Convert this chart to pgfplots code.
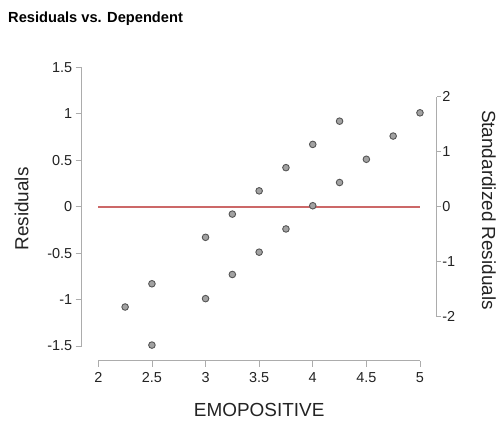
\documentclass[border=0pt]{standalone}
\usepackage{pgfplots}
\pgfplotsset{compat=1.18}
\usepackage{fontspec}
\setmainfont{Liberation Sans}
\definecolor{axisgray}{RGB}{172,172,172}
\definecolor{ptfill}{RGB}{162,162,162}
\definecolor{ptdraw}{RGB}{85,85,85}
\definecolor{zeroline}{RGB}{204,104,104}
\definecolor{txt}{RGB}{35,35,35}
\pgfplotstableread{
x y
2.25 -1.08
2.5 -0.83
2.5 -1.49
3 -0.33
3 -0.99
3.25 -0.08
3.25 -0.73
3.5 0.17
3.5 -0.49
3.75 0.42
3.75 -0.24
4 0.67
4 0.01
4.25 0.92
4.25 0.26
4.5 0.51
4.75 0.76
5 1.01
}\resid
\begin{document}
\begin{tikzpicture}
\useasboundingbox (0,0) rectangle (499bp,423bp);
\begin{axis}[
  at={(81.7bp,62.3bp)}, anchor=south west,
  scale only axis, width=355bp, height=293.4bp,
  xmin=1.845, xmax=5.156, ymin=-1.658, ymax=1.5,
  axis x line*=bottom, axis y line*=left,
  axis line style={draw=none,-},
  xtick={2,2.5,3,3.5,4,4.5,5},
  xticklabels={2,2.5,3,3.5,4,4.5,5},
  ytick={-1.5,-1,-0.5,0,0.5,1,1.5},
  yticklabels={-1.5,-1,-0.5,0,0.5,1,1.5},
  xtick pos=bottom, ytick pos=left,
  tick align=outside, major tick length=6bp,
  tick style={axisgray, line width=0.8bp},
  ticklabel style={font=\fontsize{14.5}{17}\selectfont, text=txt},
  xticklabel style={yshift=-2bp},
  clip=false,
]
\draw[axisgray, line width=0.8bp] (axis cs:1.845,-1.5) -- (axis cs:1.845,1.5);
\draw[axisgray, line width=0.8bp] (axis cs:2,-1.658) -- (axis cs:5,-1.658);
\addplot[zeroline, line width=1.8bp, mark=none] coordinates {(2,0) (5,0)};
\addplot[only marks, mark=*, mark size=3.3bp, mark options={fill=ptfill, draw=ptdraw, line width=0.9bp}] table[x=x, y=y] {\resid};
\end{axis}
\begin{axis}[
  at={(81.7bp,62.3bp)}, anchor=south west,
  scale only axis, width=355bp, height=293.4bp,
  xmin=1.845, xmax=5.156, ymin=-2.8, ymax=2.535,
  axis x line=none, axis y line*=right,
  axis line style={draw=none,-},
  ytick={-2,-1,0,1,2},
  yticklabels={-2,-1,0,1,2},
  ytick pos=right,
  tick align=outside, major tick length=4.5bp,
  tick style={axisgray, line width=0.8bp},
  yticklabel style={font=\fontsize{14.5}{17}\selectfont, text=txt, inner xsep=1bp},
  clip=false,
]
\draw[axisgray, line width=0.8bp] (axis cs:5.156,-2) -- (axis cs:5.156,2);
\end{axis}
\node[anchor=base west, inner sep=0, font=\bfseries\fontsize{14.7}{17}\selectfont, text=black] at (8bp,400.3bp) {Residuals vs. Dependent};
\node[anchor=base, inner sep=0, rotate=90, font=\fontsize{19}{22}\selectfont, text=txt] at (28.3bp,214bp) {Residuals};
\node[anchor=base, inner sep=0, rotate=-90, font=\fontsize{19}{22}\selectfont, text=txt] at (482bp,213bp) {Standardized Residuals};
\node[anchor=base, inner sep=0, font=\fontsize{19}{22}\selectfont, text=txt] at (259.2bp,6.3bp) {EMOPOSITIVE};
\end{tikzpicture}
\end{document}
